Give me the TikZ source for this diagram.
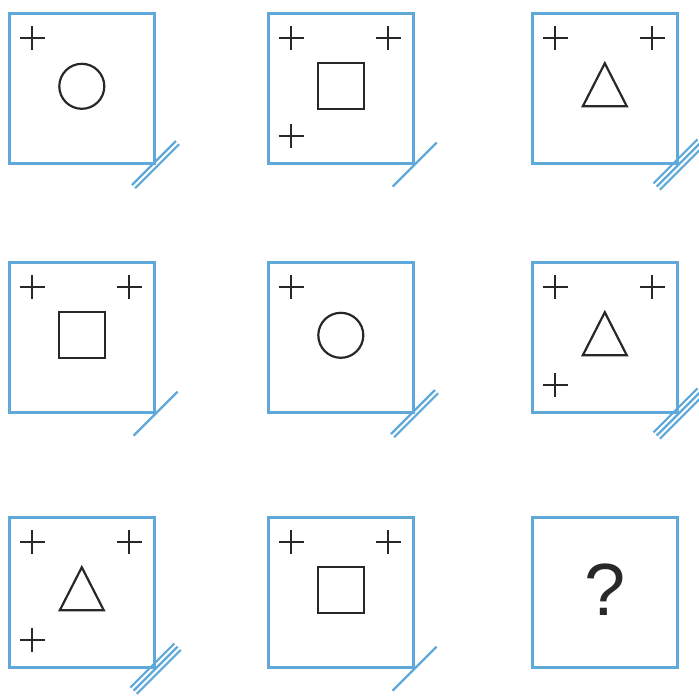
\documentclass[tikz,border=0pt]{standalone}
\usepackage{fontspec}
\setmainfont{Liberation Sans}
\usetikzlibrary{positioning}
\definecolor{frameblue}{RGB}{95,168,218}
\definecolor{inkgray}{RGB}{40,40,40}

\begin{document}
\begin{tikzpicture}[x=1pt, y=-1pt]
\tikzstyle{cell} = [rectangle, draw=frameblue, line width=2.6pt, minimum width=145pt, minimum height=150pt, inner sep=0pt, anchor=north west]
\tikzstyle{ink} = [draw=inkgray, line width=2.2pt]
\tikzstyle{slash} = [draw=frameblue, line width=2.2pt]
\tikzset{
  pics/crossmark/.style={code={\draw[ink] (-12.5,0) -- (12.5,0) (0,-12) -- (0,12);}},
  pics/wedge/.style={code={\draw[ink, line join=miter] (0,-25) -- (22,18) -- (-22,18) -- cycle;}},
  pics/hatch/.style={code={\foreach \d in {#1} {\draw[slash] (-22+\d,22+\d) -- (22+\d,-22+\d);}}}
}

\useasboundingbox (0,0) rectangle (699,699);

% the nine cells
\node [cell] (c11) at (8,12) {};
\node [cell] (c12) at (267,12) {};
\node [cell] (c13) at (531,12) {};
\node [cell] (c21) at (8,261) {};
\node [cell] (c22) at (267,261) {};
\node [cell] (c23) at (531,261) {};
\node [cell] (c31) at (8,516) {};
\node [cell] (c32) at (267,516) {};
\node [cell] (c33) at (531,516) {};

% crosses
\foreach \c/\dx/\dy in {c11/24/26, c12/24/26, c12/121/26, c12/24/124,
  c13/24/26, c13/121/26, c21/24/26, c21/121/26, c22/24/26,
  c23/24/26, c23/121/26, c23/24/124, c31/24/26, c31/121/26, c31/24/124,
  c32/24/26, c32/121/26}
  \pic at ([shift={(\dx,\dy)}]\c.north west) {crossmark};

% figures
\foreach \c in {c11,c22}
  \node [ink, circle, minimum size=45pt, inner sep=0pt] (ring-\c) at ([yshift=2pt]\c.center) {};
\foreach \c in {c12,c21,c32}
  \node [ink, rectangle, minimum size=46pt, inner sep=0pt] (sq-\c) at ([yshift=2pt]\c.center) {};
\foreach \c in {c13,c23,c31}
  \pic at (\c.center) {wedge};
\node [text=inkgray, font=\fontsize{74}{74}\selectfont, inner sep=0pt] (query) at ([yshift=3pt]c33.center) {?};

% corner strokes
\pic at (c11.south east) {hatch={-1.6,1.6}};
\pic at (c12.south east) {hatch={0}};
\pic at (c13.south east) {hatch={-3.2,0,3.2}};
\pic at (c21.south east) {hatch={0}};
\pic at (c22.south east) {hatch={-1.6,1.6}};
\pic at (c23.south east) {hatch={-3.2,0,3.2}};
\pic at (c31.south east) {hatch={-3.2,0,3.2}};
\pic at (c32.south east) {hatch={0}};
\end{tikzpicture}
\end{document}
